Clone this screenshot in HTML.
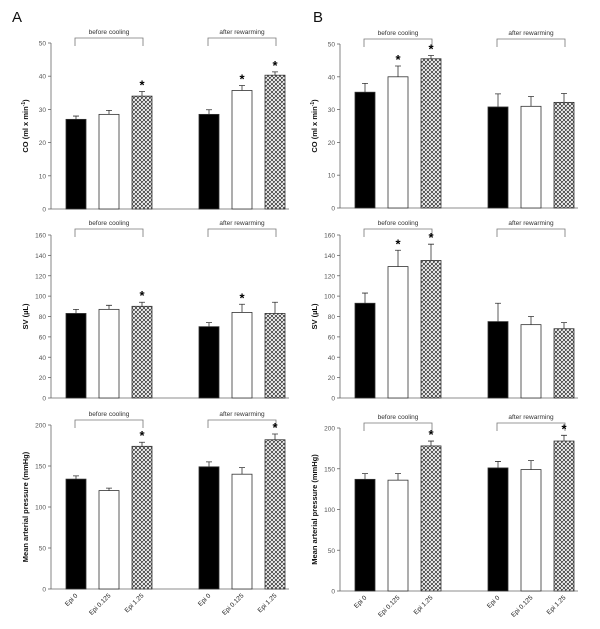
<!DOCTYPE html>
<html><head><meta charset="utf-8"><style>
html,body{margin:0;padding:0;background:#fff;}
svg{display:block;font-family:"Liberation Sans",sans-serif;}
</style></head><body>
<svg id="chart" width="600" height="629" viewBox="0 0 600 629" xmlns="http://www.w3.org/2000/svg">
<defs>
<pattern id="hatch" patternUnits="userSpaceOnUse" width="4" height="4">
<rect width="4" height="4" fill="#fff"/>
<path d="M0,0 L4,4 M4,0 L0,4 M-1,3 L1,5 M3,-1 L5,1 M-1,1 L1,-1 M3,5 L5,3" stroke="#222" stroke-width="0.7"/>
</pattern>
</defs>
<text x="12" y="22" font-size="15" fill="#111">A</text>
<text x="313" y="22" font-size="15" fill="#111">B</text>
</svg>
<script>
const categories = ["Epi 0", "Epi 0.125", "Epi 1.25"];
const groups = ["before cooling", "after rewarming"];
const coA = [27, 28.5, 34, 28.5, 35.7, 40.3];
const coAErr = [1, 1.2, 1.4, 1.4, 1.5, 1];
const coASig = [0, 0, 1, 0, 1, 1];
const svA = [83, 87, 90, 70, 84, 83];
const svAErr = [4, 4, 4, 4, 8, 11];
const svASig = [0, 0, 1, 0, 1, 0];
const mapA = [134, 120, 174, 149, 140, 182];
const mapAErr = [4, 3, 5, 6, 8, 7];
const mapASig = [0, 0, 1, 0, 0, 1];
const coB = [35.3, 40, 45.5, 30.8, 31, 32.2];
const coBErr = [2.7, 3.3, 1, 4, 3, 2.7];
const coBSig = [0, 1, 1, 0, 0, 0];
const svB = [93, 129, 135, 75, 72, 68];
const svBErr = [10, 16, 16, 18, 8, 6];
const svBSig = [0, 1, 1, 0, 0, 0];
const mapB = [137, 136, 178, 151, 149, 184];
const mapBErr = [7, 8, 6, 8, 11, 7];
const mapBSig = [0, 0, 1, 0, 0, 1];
const coTicks = [0, 10, 20, 30, 40, 50];
const svTicks = [0, 20, 40, 60, 80, 100, 120, 140, 160];
const mapTicks = [0, 50, 100, 150, 200];

const NS = "http://www.w3.org/2000/svg";
const svg = document.getElementById("chart");
function el(tag, attrs, parent) {
  const e = document.createElementNS(NS, tag);
  for (const k in attrs) e.setAttribute(k, attrs[k]);
  (parent || svg).appendChild(e);
  return e;
}
const offsets = [15, 48, 81, 148, 181, 214];
const fills = ["#000", "#fff", "url(#hatch)"];

function panel(p) {
  const g = el("g", {});
  
  
  const max = p.ticks[p.ticks.length - 1];
  const y = v => p.y0 - (v / max) * (p.y0 - p.yTop);
  const x = i => p.ax + offsets[i];
  // axes
  const ya = el("line", {x1: p.ax, y1: p.yTop, x2: p.ax, y2: p.y0, stroke: "#666", "stroke-width": 0.8}, g);
  
  
  const xa = el("line", {x1: p.ax, y1: p.y0, x2: p.ax + 238, y2: p.y0, stroke: "#666", "stroke-width": 0.8}, g);
  
  
  p.ticks.forEach(t => {
    el("line", {x1: p.ax - 3, y1: y(t), x2: p.ax, y2: y(t), stroke: "#666", "stroke-width": 0.8}, g);
    const tl = el("text", {x: p.ax - 5, y: y(t) + 2.5, "font-size": 6.5, fill: "#555", "text-anchor": "end"}, g);
    tl.textContent = t;
    
    
  });
  // y title
  const cy = (p.yTop + p.y0) / 2;
  const yt = el("text", {x: p.ax - 23, y: cy, "font-size": 7.5, "font-weight": "bold", fill: "#111", "text-anchor": "middle", transform: `rotate(-90 ${p.ax - 23} ${cy})`}, g);
  
  
  if (p.co) {
    yt.textContent = "CO (ml x min";
    const s = el("tspan", {"baseline-shift": "super", "font-size": 5}, yt); s.textContent = "-1";
    const s2 = el("tspan", {}, yt); s2.textContent = ")";
  } else yt.textContent = p.title;
  // brackets
  groups.forEach((gn, gi) => {
    const x1 = x(gi * 3) + 9, x2 = x(gi * 3 + 2) + 11;
    const b = el("path", {d: `M${x1},${p.by + 8} V${p.by} H${x2} V${p.by + 8}`, fill: "none", stroke: "#777", "stroke-width": 0.8}, g);
    
    
    const bt = el("text", {x: (x1 + x2) / 2, y: p.by - 4, "font-size": 6.5, fill: "#333", "text-anchor": "middle"}, g);
    bt.textContent = gn;
    
    
  });
  // bars
  p.vals.forEach((v, i) => {
    const bx = x(i), top = y(v), et = y(v + p.err[i]);
    const r = el("rect", {x: bx, y: top, width: 20, height: p.y0 - top, fill: fills[i % 3], stroke: "#333", "stroke-width": 0.8}, g);
    
    
    const eb = el("path", {d: `M${bx + 10},${top} V${et} M${bx + 7},${et} H${bx + 13}`, stroke: "#333", "stroke-width": 0.8, fill: "none"}, g);
    
    
    if (p.sig[i]) {
      const st = el("text", {x: bx + 10, y: et - 2, "font-size": 13, "font-weight": "bold", fill: "#000", "text-anchor": "middle"}, g);
      st.textContent = "*";
      
      
    }
    if (p.xlabels) {
      const lx = bx + 12, ly = p.y0 + 7;
      const xl = el("text", {x: lx, y: ly, "font-size": 6.5, fill: "#222", "text-anchor": "end", transform: `rotate(-45 ${lx} ${ly})`}, g);
      xl.textContent = categories[i % 3];
      
      
    }
  });
}
panel({name: "panel-a-co", ax: 51, yTop: 43, y0: 209, ticks: coTicks, vals: coA, err: coAErr, sig: coASig, co: true, by: 38});
panel({name: "panel-a-sv", ax: 51, yTop: 235, y0: 398, ticks: svTicks, vals: svA, err: svAErr, sig: svASig, title: "SV (\u00b5L)", by: 229});
panel({name: "panel-a-map", ax: 51, yTop: 425, y0: 589, ticks: mapTicks, vals: mapA, err: mapAErr, sig: mapASig, title: "Mean arterial pressure (mmHg)", by: 420, xlabels: true});
panel({name: "panel-b-co", ax: 340, yTop: 44, y0: 208, ticks: coTicks, vals: coB, err: coBErr, sig: coBSig, co: true, by: 39});
panel({name: "panel-b-sv", ax: 340, yTop: 235, y0: 398, ticks: svTicks, vals: svB, err: svBErr, sig: svBSig, title: "SV (\u00b5L)", by: 229});
panel({name: "panel-b-map", ax: 340, yTop: 428, y0: 591, ticks: mapTicks, vals: mapB, err: mapBErr, sig: mapBSig, title: "Mean arterial pressure (mmHg)", by: 423, xlabels: true});
</script>
</body></html>
